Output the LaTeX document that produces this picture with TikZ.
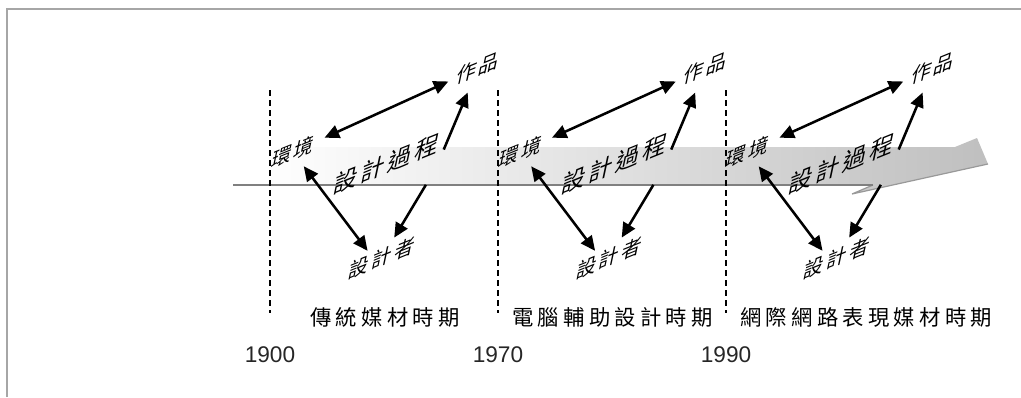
\documentclass[tikz,border=0pt]{standalone}
\usepackage{fontspec}
\setmainfont{Liberation Sans}
\newfontfamily\cjk[LetterSpace=15]{Noto Sans CJK TC}
\newfontfamily\cjkwide[LetterSpace=20]{Noto Sans CJK TC}
\usetikzlibrary{arrows.meta}

\begin{document}
\begin{tikzpicture}[x=0.75pt, y=-0.75pt,
    % labels run up at 22 degrees, letters lean slightly forward
    tag/.style={font=\cjk\fontsize{16}{16}\selectfont, inner sep=1pt, cm={0.927,0.375,0.208,0.978,(0,0)}},
    era/.style={font=\cjkwide\fontsize{16}{16}\selectfont, anchor=west, inner sep=0pt},
    year/.style={font=\fontsize{17}{17}\selectfont, text=black!85},
    link/.style={line width=1.9pt, -{Triangle[length=11pt,width=10pt]}},
    both/.style={line width=1.9pt, {Triangle[length=11pt,width=10pt]}-{Triangle[length=11pt,width=10pt]}}
    ]
  \useasboundingbox (0,0) rectangle (1021,397);

  % frame
  \draw[gray!70, line width=1.2pt] (7,397) -- (7,9) -- (1021,9);

  % design process band along the time axis
  \shade[left color=white, right color=black!25]
    (262,147) -- (955,147) -- (977,138) -- (988,164) -- (852,194) -- (873,185) -- (262,185) -- cycle;
  \draw[gray!80, line width=0.9pt] (873,185) -- (852,194) -- (988,164);
  \draw[gray, line width=1.1pt] (233,185) -- (873,185);

  % period borders and years
  \foreach \x/\yr in {270/1900, 498/1970, 726/1990} {
    \draw[dash pattern=on 4.5pt off 3pt, line width=0.9pt] (\x,90) -- (\x,313);
    \node[year] (y\yr) at (\x,355) {\yr};
  }

  \node[era] (era1) at (310,317) {傳統媒材時期};
  \node[era] (era2) at (512,317) {電腦輔助設計時期};
  \node[era] (era3) at (740,317) {網際網路表現媒材時期};

  % the same relation in every period
  \foreach \i in {0,1,2} {
    \begin{scope}[xshift=\i*170.6pt]
      \node[tag] (env\i) at (293,152) {環境};
      \node[tag, font=\cjk\fontsize{19}{19}\selectfont] (proc\i) at (387,164) {設計過程};
      \node[tag] (work\i) at (478,68) {作品};
      \node[tag] (des\i) at (382,258) {設計者};
      \coordinate (hub\i) at (436,168);

      \draw[both, shorten <=7pt, shorten >=5.5pt] (env\i) -- (work\i);
      \draw[both, shorten <=6pt, shorten >=2pt] (env\i) -- (des\i.145);
      \draw[link, shorten <=15pt, shorten >=10pt] (hub\i) -- (work\i);
      \draw[link, shorten <=14.7pt, shorten >=6pt] (hub\i) -- (des\i);
    \end{scope}
  }
\end{tikzpicture}
\end{document}
